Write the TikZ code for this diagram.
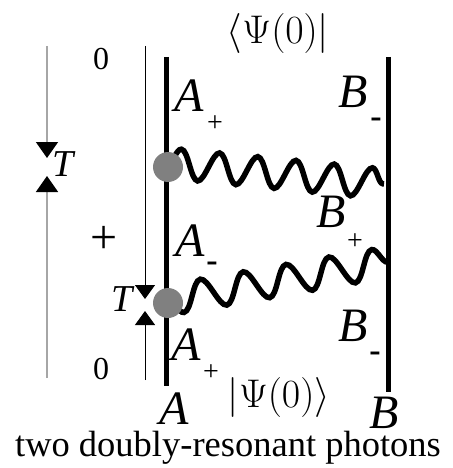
\RequirePackage{fix-cm}
\documentclass[tikz,border=0pt]{standalone}
\usepackage{fontspec}
\setmainfont{Liberation Serif}
\usetikzlibrary{arrows.meta,decorations.pathmorphing}

\begin{document}
\begin{tikzpicture}[x=1pt,y=-1pt,
  lbl/.style={inner sep=0pt,font=\fontsize{48}{48}\selectfont\itshape},
  idx/.style={inner sep=0pt,font=\fontsize{28}{28}\selectfont},
  dsh/.style={inner sep=0pt,font=\fontsize{34}{34}\selectfont\bfseries},
  num/.style={inner sep=0pt,font=\fontsize{32}{32}\selectfont},
  wline/.style={line width=5pt},
  tri/.style={-{Triangle[width=22pt,length=16pt,color=black]}},
  photon/.style 2 args={line width=5.5pt,decorate,decoration={snake,segment length=#1,amplitude=#2}},
  vtx/.style={circle,fill=gray,minimum size=30pt,inner sep=0pt}]
\useasboundingbox (0,0) rectangle (452,468);
\coordinate (g0) at (47,46); \coordinate (g1) at (47,158); \coordinate (g2) at (47,176); \coordinate (g3) at (47,378);
\coordinate (h0) at (145,46); \coordinate (h1) at (145,299); \coordinate (h2) at (145,311); \coordinate (h3) at (145,380);
\draw[gray!70,line width=1.5pt,tri] (g0) -- (g1);
\draw[gray!70,line width=1.5pt,tri] (g3) -- (g2);
\draw[line width=1pt,-{Triangle[width=20pt,length=14pt]}] (h0) -- (h1);
\draw[line width=1pt,-{Triangle[width=20pt,length=14pt]}] (h3) -- (h2);
\coordinate (at) at (166,57); \coordinate (ab) at (166,386);
\coordinate (bt) at (388,57); \coordinate (bb) at (388,392);
\coordinate (p1) at (168,163); \coordinate (b1) at (384,184);
\coordinate (p2) at (168,300); \coordinate (b2) at (388,262);
\draw[wline] (at) -- (ab);
\draw[wline] (bt) -- (bb);
\draw[photon={38.4pt}{15pt}] (p1) -- (b1);
\draw[photon={43.5pt}{-15pt}] (p2) -- (b2);
\node[vtx] (v1) at (168,167) {};
\node[vtx] (v2) at (168,303) {};
\node[num] (z0) at (101,59) {0};
\node[num] (z1) at (101,369) {0};
\node[inner sep=0pt,font=\fontsize{48}{48}\selectfont] (pl) at (104,240) {+};
\node[lbl,font=\fontsize{38}{38}\selectfont\itshape] (t1) at (63,164) {T};
\node[lbl,font=\fontsize{38}{38}\selectfont\itshape] (t2) at (122,299) {T};
\node[lbl] (a1) at (189,96) {A}; \node[idx] (a1s) at (215,124) {+};
\node[lbl] (b1l) at (353,92) {B}; \node[dsh] (b1s) at (376,123) {-};
\node[lbl] (b2l) at (331,212) {B}; \node[idx] (b2s) at (355,242) {+};
\node[lbl] (a2) at (190,241) {A}; \node[dsh] (a2s) at (212,267) {-};
\node[lbl] (b3l) at (353,326) {B}; \node[dsh] (b3s) at (375,357) {-};
\node[lbl] (a3) at (186,345) {A}; \node[idx] (a3s) at (211,373) {+};
\node[lbl] (an) at (174,409) {A};
\node[lbl] (bn) at (384,413) {B};
\node[inner sep=0pt,font=\fontsize{40}{40}\selectfont] (bra) at (278,34) {$\langle\Psi(0)|$};
\node[inner sep=0pt,font=\fontsize{40}{40}\selectfont] (ket) at (279,397) {$|\Psi(0)\rangle$};
\node[inner sep=0pt,anchor=base,font=\fontsize{36.5}{36.5}\selectfont] (cap) at (228,456) {two doubly-resonant photons};
\end{tikzpicture}
\end{document}
